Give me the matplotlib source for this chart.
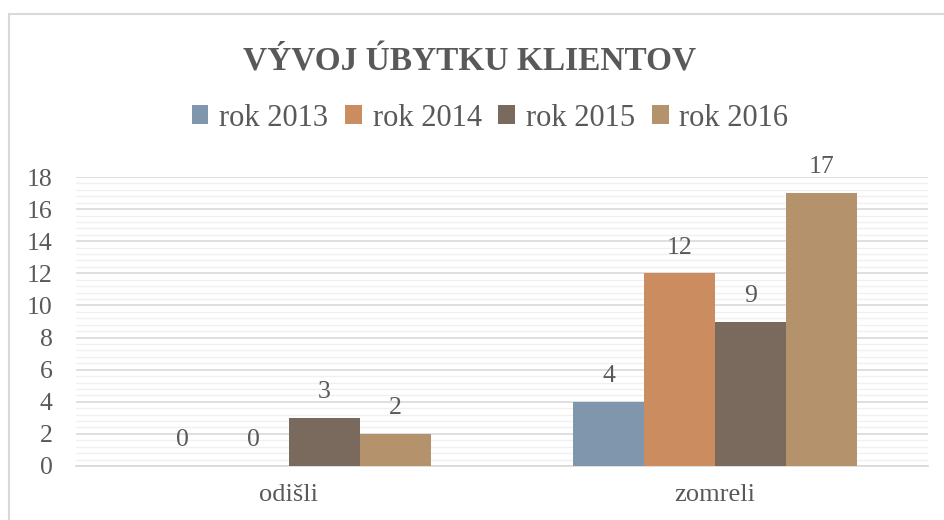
import matplotlib
matplotlib.use("Agg")
import matplotlib.pyplot as plt
import numpy as np
from matplotlib.lines import Line2D
from matplotlib.patches import Patch

categories = ["odišli", "zomreli"]
series_names = ["rok 2013", "rok 2014", "rok 2015", "rok 2016"]
values = {
    "rok 2013": [0, 4],
    "rok 2014": [0, 12],
    "rok 2015": [3, 9],
    "rok 2016": [2, 17],
}
colors = ["#7F96AD", "#CB8C5F", "#7A695D", "#B4926B"]
yticks = [0, 2, 4, 6, 8, 10, 12, 14, 16, 18]
title = "VÝVOJ ÚBYTKU KLIENTOV"

text_color = "#595959"
font = "Liberation Serif"

W, H = 944, 520
fig = plt.figure(figsize=(W / 100, H / 100), dpi=100)
fig.patch.set_facecolor("white")

ax = fig.add_axes([76 / W, 1 - 466 / H, (928 - 76) / W, (466 - 177) / H])
ax.set_facecolor("white")

x = np.arange(len(categories))
bw = 1 / 6
n = len(series_names)
for i, (name, col) in enumerate(zip(series_names, colors)):
    offs = (i - (n - 1) / 2) * bw
    vals = values[name]
    ax.bar(x + offs, vals, width=bw, color=col, zorder=3, linewidth=0)
    for xi, v in zip(x, vals):
        ax.annotate(str(v), (xi + offs, v), xytext=(0, 18.5), textcoords="offset points",
                    ha="center", va="center", fontsize=18.5, color=text_color,
                    family=font, zorder=4)

ax.set_xlim(-0.5, 1.5)
ax.set_ylim(0, 18)
ax.set_xticks(x)
ax.set_xticklabels(categories)
ax.set_yticks(yticks)
ax.set_yticks(np.arange(0, 18.01, 0.4), minor=True)
ax.tick_params(axis="both", which="both", length=0)
ax.tick_params(axis="y", pad=17, labelsize=18.5, labelcolor=text_color)
ax.tick_params(axis="x", pad=13, labelsize=19, labelcolor=text_color)
for lbl in ax.get_xticklabels() + ax.get_yticklabels():
    lbl.set_family(font)

ax.grid(axis="y", which="major", color="#D9D9D9", linewidth=1.2, zorder=0)
ax.grid(axis="y", which="minor", color="#F0F0F0", linewidth=1.0, zorder=0)
ax.grid(axis="x", which="both", visible=False)
for s in ["top", "right", "left"]:
    ax.spines[s].set_visible(False)
ax.spines["bottom"].set_color("#D9D9D9")
ax.spines["bottom"].set_linewidth(1.2)
ax.spines["bottom"].set_zorder(2)

fig.text(470 / W, 1 - 62 / H, title, ha="center", va="center", fontsize=24,
         fontweight="bold", color=text_color, family=font)

handles = [Patch(facecolor=c, edgecolor="none") for c in colors]
leg = fig.legend(handles, series_names, loc="center", bbox_to_anchor=(490 / W, 1 - 118 / H),
                 ncol=4, frameon=False, handlelength=0.55, handleheight=0.55,
                 handletextpad=0.35, columnspacing=0.55, labelcolor=text_color,
                 prop={"family": font, "size": 22})

# chart border
fig.add_artist(Line2D([9 / W, 1], [1 - 14 / H, 1 - 14 / H], color="#D9D9D9", linewidth=1.5,
                      transform=fig.transFigure))
fig.add_artist(Line2D([9 / W, 9 / W], [0, 1 - 14 / H], color="#D9D9D9", linewidth=1.5,
                      transform=fig.transFigure))

fig.savefig("out.png", dpi=100, facecolor="white")
